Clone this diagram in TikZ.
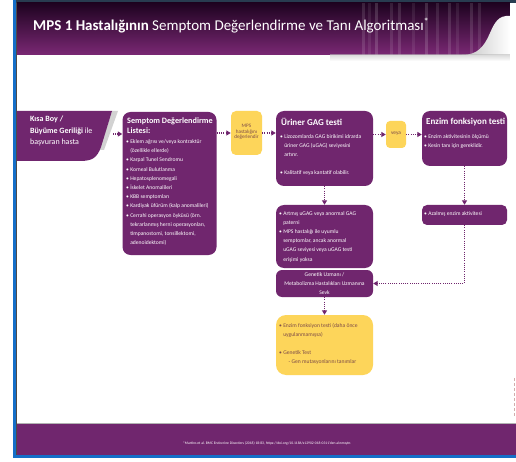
\documentclass[tikz,border=0pt]{standalone}
\usepackage{fontspec}
\setmainfont{Carlito}
\usetikzlibrary{arrows.meta}
\definecolor{mpurple}{RGB}{112,38,110}
\definecolor{myellow}{RGB}{253,213,90}
\definecolor{ytext}{RGB}{125,75,72}
\definecolor{blueb}{RGB}{20,110,200}
\definecolor{topdark}{RGB}{40,60,80}
\definecolor{hdtop}{RGB}{30,3,32}
\definecolor{hdbot}{RGB}{122,40,116}
\tikzset{
  pbox/.style={fill=mpurple, rounded corners=8pt, inner sep=0pt},
  ybox/.style={fill=myellow, rounded corners=6pt, inner sep=0pt},
  btxt/.style={text=white, align=left, inner sep=0pt, anchor=north west, font=\fontsize{5.6}{9.2}\selectfont},
  ytxt/.style={text=ytext, align=left, inner sep=0pt, anchor=north west, font=\fontsize{5.6}{9.2}\selectfont},
  ttl/.style={text=white, align=left, inner sep=0pt, anchor=north west, font=\fontsize{8.2}{9.5}\selectfont\bfseries},
  arr/.style={draw=mpurple, line width=1.1pt, dash pattern=on 1pt off 1.2pt, -{Triangle[width=5pt,length=4.5pt]}}
}
\newcommand{\bl}{\hphantom{• }}
\begin{document}
\begin{tikzpicture}[x=1pt,y=-1pt]
\useasboundingbox (0,0) rectangle (516,462);
\fill[white] (0,0) rectangle (516,462);
% frame
\fill[blueb] (13,0) rectangle (16,458);
\fill[blueb] (13,455) rectangle (516,458);
\fill[black!70] (16,0) rectangle (17,455);
\fill[topdark] (16,0) rectangle (516,3);
% header
\shade[top color=hdtop, bottom color=hdbot] (17,3) rectangle (510,55);
\foreach \xx/\op in {362/0.12,368/0.08,375/0.15,390/0.1,398/0.12,412/0.08,425/0.15,436/0.1,448/0.12,456/0.08,470/0.12,478/0.1}
  \fill[white, opacity=\op] (\xx,3) rectangle (\xx+2.5,55);
\shade[left color=gray!45, right color=white] (462,55) .. controls (494,55) and (486,18) .. (506,16) -- (510,16) -- (510,55) -- cycle;
\shade[top color=gray!45, bottom color=white, opacity=0.6] (330,55) rectangle (510,61);
\fill[white] (510,3) rectangle (516,62);
\node[anchor=base west, inner sep=0pt, text=white, font=\fontsize{15}{17}\selectfont] (title) at (33,31)
  {\textbf{MPS 1 Hastalığının} Semptom Değerlendirme ve Tanı Algoritması\textsuperscript{*}};
% footer
\fill[mpurple] (17,424) rectangle (516,455);
\draw[gray!60, line width=0.6pt] (17,423.7) -- (516,423.7);
\node[text=white, inner sep=0pt, font=\fontsize{3.7}{4}\selectfont] (foot) at (267,443)
  {*Martins et al. BMC Endocrine Disorders (2018) 18:83, https://doi.org/10.1186/s12902-018-0311'den alınmıştır.};
\draw[red!30!gray!50, densely dashed, line width=0.5pt] (514.5,378) -- (514.5,416);
% Kisa Boy shape
\fill[gray!35] (112,111) -- (118,111) -- (104,150) -- (99,150) -- cycle;
\fill[mpurple] (17,111) -- (112,111) -- (101,147) .. controls (97,158) and (92,161) .. (80,161) -- (17,161) -- cycle;
\node[text=white, align=left, inner sep=0pt, anchor=north west, font=\fontsize{8}{11.5}\selectfont] (kisa) at (30,116)
  {\textbf{Kısa Boy /}\\\textbf{Büyüme Geriliği} ile\\başvuran hasta};
\coordinate (kisaE) at (113,134);
% boxes
\node[pbox, minimum width=94pt, minimum height=143pt] (semp) at (169.5,183.5) {};
\node[ybox, rounded corners=5pt, minimum width=31pt, minimum height=44pt] (mps) at (246.5,133) {};
\node[pbox, minimum width=97pt, minimum height=75pt] (uriner) at (324.5,148.5) {};
\node[ybox, rounded corners=4pt, minimum width=20pt, minimum height=27pt] (veya) at (396,134.5) {};
\node[pbox, minimum width=85pt, minimum height=55pt] (enzim) at (464.5,138.5) {};
\node[pbox, rounded corners=5pt, minimum width=85pt, minimum height=20pt] (azal) at (464.5,215) {};
\node[pbox, minimum width=97pt, minimum height=63pt] (artmis) at (324.5,236.5) {};
\node[pbox, rounded corners=6pt, minimum width=97pt, minimum height=27pt] (genetik) at (324.5,283.5) {};
\node[ybox, rounded corners=10pt, minimum width=97pt, minimum height=60pt] (final) at (324.5,345) {};
% texts
\node[ttl] (sempT) at (127,118) {Semptom Değerlendirme\\Listesi:};
\node[btxt] (sempL) at (126,139.5) {• Eklem ağrısı ve/veya kontraktür\\\bl(özellikle ellerde)\\• Karpal Tunel Sendromu\\• Korneal Bulutlanma\\• Hepatosplenomegali\\• İskelet Anomalileri\\• KBB semptomları\\• Kardiyak üfürüm (kalp anomalileri)\\• Cerrahi operasyon öyküsü (örn.\\\bl tekrarlanmış herni operasyonları,\\\bl timpanostomi, tonsillektomi,\\\bl adenoidektomi)};
\node[text=ytext, align=center, inner sep=0pt, font=\fontsize{5.2}{5.6}\selectfont] (mpsT) at (246.5,132) {MPS\\hastalığını\\değerlendir};
\node[ttl, font=\fontsize{9}{10}\selectfont\bfseries] (urT) at (281,118) {Üriner GAG testi};
\node[btxt] (urL) at (280,134.5) {• Lizozomlarda GAG birikimi idrarda\\\bl üriner GAG (uGAG) seviyesini\\\bl artırır.\\[8.6pt]• Kalitatif veya kantatif olabilir.};
\node[text=ytext, inner sep=0pt, font=\fontsize{5.4}{6}\selectfont] (veyaT) at (396,134) {veya};
\node[ttl, font=\fontsize{9}{10}\selectfont\bfseries] (enT) at (426,118) {Enzim fonksiyon testi};
\node[btxt] (enL) at (424,134.5) {• Enzim aktivitesinin ölçümü\\• Kesin tanı için gereklidir.};
\node[btxt] (azL) at (424,211.5) {• Azalmış enzim aktivitesi};
\node[btxt] (arL) at (279,211) {• Artmış uGAG veya anormal GAG\\\bl paterni\\• MPS hastalığı ile uyumlu\\\bl semptomlar, ancak anormal\\\bl uGAG seviyesi veya uGAG testi\\\bl erişimi yoksa};
\node[text=white, align=center, inner sep=0pt, font=\fontsize{5.6}{8.8}\selectfont] (genT) at (324.5,283.5) {Genetik Uzmanı /\\Metabolizma Hastalıkları Uzmanına\\Sevk};
\node[ytxt] (fiL) at (279,323.5) {• Enzim fonksiyon testi (daha önce\\\bl uygulanmamışsa)\\[8.6pt]• Genetik Test\\\bl\bl\ - Gen mutasyonlarını tanımlar};
% arrows
\draw[arr] (kisaE) -- (semp.west |- kisaE);
\draw[arr] (semp.east |- mps.west) -- (mps.west);
\draw[arr] (mps.east) -- (uriner.west |- mps.east);
\draw[arr] (uriner.east |- veya.west) -- (veya.west);
\draw[arr] (veya.east) -- (enzim.west |- veya.east);
\draw[arr] (uriner.south) -- (artmis.north);
\draw[arr] (enzim.south) -- (azal.north);
\draw[arr] (azal.south) |- (genetik.east);
\draw[arr] (genetik.south) -- (final.north);
\end{tikzpicture}
\end{document}
